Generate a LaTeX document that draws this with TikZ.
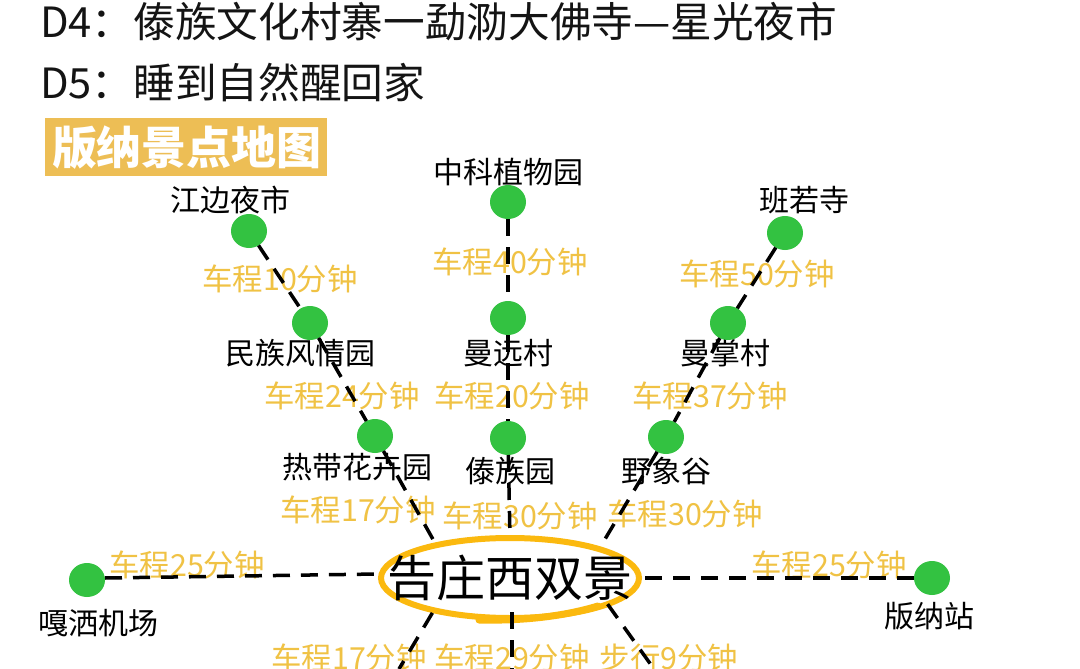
\documentclass[tikz,border=0pt]{standalone}
\usepackage{fontspec}
\setmainfont{Noto Sans CJK SC}
\usetikzlibrary{shapes.geometric}
\definecolor{spotgreen}{HTML}{33C241}
\definecolor{labelorange}{HTML}{F0C244}
\definecolor{ringorange}{HTML}{FBB90F}
\definecolor{titlebox}{HTML}{EDBE55}
\tikzset{
  heading/.style={anchor=west,inner sep=0pt,text=black!92,font=\fontsize{41.65}{41.65}\selectfont},
  spot/.style={ellipse,fill=spotgreen,minimum width=36pt,minimum height=34pt,inner sep=0pt,outer sep=0pt},
  placename/.style={inner sep=0pt,text=black,font=\fontsize{30}{30}\selectfont},
  traveltime/.style={inner sep=0pt,text=labelorange,font=\fontsize{30.4}{30.4}\selectfont},
  link/.style={draw=black,line width=3.5pt,dash pattern=on 17pt off 11pt},
}
\begin{document}
\begin{tikzpicture}[x=1pt,y=-1pt]
\clip (0,0) rectangle (1080,669);
\fill[white] (0,0) rectangle (1080,669);
\node[heading] (d4) at (40,22) {D4：傣族文化村寨一勐泐大佛寺—星光夜市};
\node[heading] (d5) at (40,83) {D5：睡到自然醒回家};
\node[fill=titlebox,inner sep=0pt,minimum width=282pt,minimum height=57pt] (title) at (186,147) {};
\node[text=white,inner sep=0pt,font=\fontsize{45}{45}\selectfont\bfseries] (titletext) at (187,148) {版纳景点地图};
% travel times
\node[traveltime] (t1) at (280,279) {车程10分钟};
\node[traveltime] (t2) at (510,262) {车程40分钟};
\node[traveltime] (t3) at (757,274) {车程50分钟};
\node[traveltime] (t4) at (342,396) {车程24分钟};
\node[traveltime] (t5) at (512,396) {车程20分钟};
\node[traveltime] (t6) at (710,396) {车程37分钟};
\node[traveltime] (t7) at (358,510) {车程17分钟};
\node[traveltime] (t8) at (520,516) {车程30分钟};
\node[traveltime] (t9) at (685,514) {车程30分钟};
\node[traveltime] (t10) at (187,565) {车程25分钟};
\node[traveltime] (t11) at (829,565) {车程25分钟};
\node[traveltime] (t12) at (349,658) {车程17分钟};
\node[traveltime] (t13) at (512,658) {车程29分钟};
\node[traveltime] (t14) at (669,658) {步行9分钟};
% place names
\node[placename] (l1) at (230,200) {江边夜市};
\node[placename] (l2) at (508,172) {中科植物园};
\node[placename] (l3) at (804,200) {班若寺};
\node[placename] (l4) at (300,353) {民族风情园};
\node[placename] (l5) at (508,353) {曼远村};
\node[placename] (l6) at (725,353) {曼掌村};
\node[placename] (l7) at (357,467) {热带花卉园};
\node[placename] (l8) at (510,471) {傣族园};
\node[placename] (l9) at (666,471) {野象谷};
\node[placename] (l10) at (98,623) {嘎洒机场};
\node[placename] (l11) at (929,616) {版纳站};
% hub
\node[ellipse,draw=ringorange,line width=6pt,minimum width=258pt,minimum height=80pt,inner sep=0pt,outer sep=0pt] (hub) at (510,578) {};
\draw[ringorange,line width=7pt,line cap=round] (479,620) .. controls (525,621) and (565,616) .. (598,606);
\node[inner sep=0pt,font=\fontsize{49}{49}\selectfont,text=black] (hubname) at (510,578) {告庄西双景};
% spots
\node[spot] (s1) at (249,231) {};
\node[spot] (s2) at (310,323) {};
\node[spot] (s3) at (375,436) {};
\node[spot] (s4) at (508,202) {};
\node[spot] (s5) at (508,318) {};
\node[spot] (s6) at (508,438) {};
\node[spot] (s7) at (785,233) {};
\node[spot] (s8) at (728,323) {};
\node[spot] (s9) at (666,437) {};
\node[spot] (s10) at (87,580) {};
\node[spot] (s11) at (932,578) {};
\coordinate (endA) at (399,669);
\coordinate (endB) at (512,669);
\coordinate (endC) at (654,669);
% connectors
\draw[link] (s1) -- (s2);
\draw[link] (s2) -- (s3);
\draw[link,shorten >=4pt] (s3) -- (hub.156);
\draw[link] (s4) -- (s5);
\draw[link] (s5) -- (s6);
\draw[link,shorten >=3pt] (s6) -- (hub.90);
\draw[link] (s7) -- (s8);
\draw[link] (s8) -- (s9);
\draw[link,shorten >=10pt] (s9) -- (hub.18);
\draw[link] ([yshift=2pt]s10.east) -- ([xshift=-3pt,yshift=4pt]hub.west);
\draw[link] (s11.west) -- ([xshift=3pt]hub.east);
\draw[link,shorten <=3pt] (hub.203) -- (endA);
\draw[link] ([xshift=2pt,yshift=6pt]hub.270) -- (endB);
\draw[link] (hub.345) -- (endC);
\end{tikzpicture}
\end{document}
